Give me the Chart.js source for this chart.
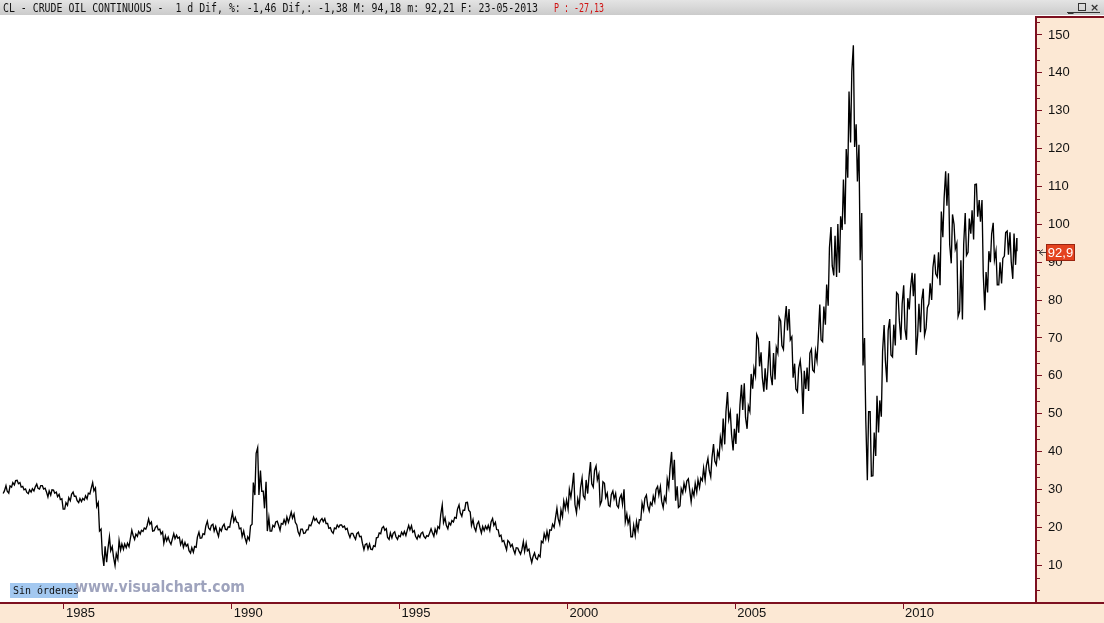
<!DOCTYPE html>
<html>
<head>
<meta charset="utf-8">
<script src="https://cdn.jsdelivr.net/npm/chart.js@4/dist/chart.umd.min.js"></script>
<style>
html,body{margin:0;padding:0;background:#fff;overflow:hidden;}
canvas{display:block;}
</style>
</head>
<body>
<canvas id="c" width="1104" height="623"></canvas>
<script>
// ---------------- DATA ----------------
const startYear = 1983;
const startMonth = 3; // first month of the arrays below (March 1983)

// monthly highs of the continuous contract
const monthHigh = [
  29.6, 31.0, 30.9, 31.8, 32.3, 32.4, 31.8, 30.8, 30.1, 29.9,                 // 1983 Mar-Dec
  30.2, 30.6, 31.4, 31.0, 31.0, 30.3, 29.6, 29.9, 29.8, 29.3, 28.7, 27.5,     // 1984
  26.5, 27.8, 28.7, 29.3, 28.2, 27.6, 27.6, 28.3, 29.0, 30.2, 31.8, 30.4,     // 1985
  26.5, 19.5, 15.0, 14.3, 17.5, 14.9, 13.0, 16.5, 15.6, 15.6, 15.8, 16.9,     // 1986
  19.2, 18.2, 18.9, 19.2, 19.8, 20.4, 22.2, 21.4, 20.0, 20.4, 19.5, 18.8,     // 1987
  17.7, 17.4, 16.8, 18.3, 17.9, 17.4, 16.5, 16.0, 15.5, 14.6, 14.9, 17.4,     // 1988
  18.7, 18.3, 20.3, 21.6, 20.5, 20.8, 20.2, 19.7, 20.2, 20.8, 20.1, 21.9,     // 1989
  23.9, 22.6, 21.2, 19.8, 19.0, 17.5, 20.4, 31.8, 39.5, 41.0, 35.0, 29.5,     // 1990
  32.0, 22.5, 20.5, 21.4, 21.6, 21.0, 22.0, 22.7, 22.5, 24.0, 23.5, 20.6,     // 1991
  19.5, 19.5, 19.3, 20.6, 21.3, 22.7, 22.3, 21.8, 22.3, 22.3, 21.0, 19.9,     // 1992
  19.8, 20.6, 20.6, 20.6, 20.3, 19.7, 18.4, 18.4, 18.3, 18.7, 17.6, 15.4,     // 1993
  15.7, 15.6, 15.1, 17.2, 18.5, 19.8, 20.2, 19.6, 18.5, 18.4, 18.8, 17.8,     // 1994
  18.7, 18.9, 19.1, 20.5, 20.4, 19.1, 17.9, 18.4, 18.7, 17.8, 18.4, 19.6,     // 1995
  19.5, 20.2, 23.3, 25.9, 22.5, 21.2, 21.8, 22.6, 24.8, 25.9, 24.5, 26.5,     // 1996
  26.6, 24.0, 22.0, 20.8, 21.5, 20.2, 20.3, 20.5, 21.4, 22.3, 21.3, 19.3,     // 1997
  17.9, 16.5, 16.5, 16.0, 15.5, 14.6, 14.5, 14.0, 16.2, 15.8, 14.2, 12.2,     // 1998
  13.2, 12.7, 16.3, 18.3, 18.9, 19.3, 20.8, 22.3, 25.0, 24.6, 26.9, 27.2,     // 1999
  30.0, 30.5, 34.4, 27.5, 30.5, 33.0, 32.5, 33.2, 37.2, 35.0, 36.2, 34.0,     // 2000
  32.0, 31.6, 29.0, 28.6, 29.6, 28.9, 27.7, 28.6, 30.0, 23.5, 22.5, 20.5,     // 2001
  21.5, 22.0, 26.4, 27.7, 28.5, 26.5, 28.2, 30.0, 30.8, 30.7, 28.0, 32.7,     // 2002
  35.5, 39.9, 37.8, 30.8, 30.2, 31.6, 32.2, 32.8, 29.8, 31.6, 32.6, 33.0,     // 2003
  35.6, 36.3, 38.2, 38.4, 42.0, 40.0, 43.8, 48.7, 50.5, 55.7, 50.5, 46.0,     // 2004
  50.0, 52.3, 57.6, 58.0, 52.0, 60.5, 62.0, 70.9, 69.8, 66.2, 62.0, 61.8,     // 2005
  69.2, 66.0, 67.5, 75.4, 74.5, 73.9, 78.4, 77.6, 70.3, 63.2, 62.0, 64.0,     // 2006
  61.3, 62.2, 66.0, 67.0, 66.5, 70.0, 78.8, 78.3, 84.1, 93.8, 99.3, 97.0,     // 2007
  100.1, 102.1, 111.8, 119.9, 135.1, 140.4, 147.3, 126.4, 121.0, 103.0, 70.0, 50.5, // 2008
  50.5, 45.0, 54.7, 53.5, 66.4, 73.4, 72.0, 75.0, 73.5, 82.0, 81.5, 79.0,     // 2009
  83.9, 80.5, 83.2, 87.2, 87.0, 79.0, 80.0, 83.0, 78.0, 84.4, 88.6, 92.0,     // 2010
  92.6, 103.4, 106.9, 114.0, 113.5, 102.6, 100.0, 95.0, 90.5, 94.7, 103.0, 101.5, // 2011
  103.7, 110.5, 110.6, 106.4, 106.4, 87.4, 92.9, 97.5, 100.4, 93.0, 90.0, 91.0, // 2012
  97.8, 98.2, 97.9, 97.6, 96.4                                                 // 2013 Jan-May
];

// monthly lows of the continuous contract
const monthLow = [
  28.9, 29.5, 29.0, 30.6, 31.2, 31.5, 30.6, 29.9, 29.2, 28.9,                 // 1983 Mar-Dec
  29.3, 29.6, 30.3, 30.1, 30.1, 29.4, 28.0, 28.5, 29.0, 28.1, 27.3, 24.8,     // 1984
  24.8, 25.8, 27.0, 28.2, 27.0, 26.5, 26.8, 27.2, 27.5, 28.8, 29.6, 25.5,     // 1985
  19.0, 13.0, 9.8, 10.8, 13.8, 12.2, 9.9, 11.6, 14.0, 14.2, 14.6, 14.9,       // 1986
  17.9, 16.8, 17.6, 18.2, 18.9, 19.5, 20.8, 19.0, 19.1, 19.3, 18.2, 15.8,     // 1987
  16.4, 16.3, 15.5, 17.0, 17.1, 15.4, 14.7, 15.0, 13.8, 13.2, 13.4, 14.7,     // 1988
  17.1, 17.2, 18.1, 19.8, 19.3, 19.0, 18.8, 17.6, 19.0, 19.5, 19.3, 20.0,     // 1989
  21.5, 21.4, 19.6, 17.5, 17.3, 15.9, 16.7, 20.8, 28.5, 28.5, 29.5, 25.0,     // 1990
  19.0, 19.0, 19.0, 20.1, 20.6, 19.2, 20.8, 20.9, 21.3, 22.4, 21.3, 18.8,     // 1991
  17.9, 18.4, 18.5, 19.3, 20.4, 21.8, 21.4, 21.0, 21.5, 21.0, 19.7, 18.9,     // 1992
  18.4, 19.6, 20.0, 20.0, 19.4, 18.4, 17.3, 17.6, 16.8, 17.5, 15.8, 14.1,     // 1993
  14.3, 14.2, 14.1, 14.9, 17.3, 18.3, 19.2, 17.3, 16.8, 17.2, 17.5, 16.8,     // 1994
  17.5, 18.0, 17.8, 19.3, 18.7, 17.6, 16.9, 17.3, 17.6, 17.1, 17.6, 18.6,     // 1995
  17.6, 18.4, 19.7, 21.2, 20.5, 19.6, 20.6, 21.4, 22.4, 23.8, 22.9, 24.5,     // 1996
  24.5, 20.5, 20.0, 19.0, 20.0, 18.5, 19.1, 19.5, 19.1, 20.5, 19.4, 17.6,     // 1997
  16.2, 15.3, 14.0, 14.9, 14.2, 13.0, 13.7, 12.9, 13.6, 13.8, 12.3, 10.7,     // 1998
  11.9, 11.5, 12.2, 15.9, 16.9, 16.8, 19.2, 20.0, 22.3, 20.8, 22.8, 24.9,     // 1999
  24.8, 27.9, 26.0, 23.8, 25.6, 28.3, 27.5, 28.9, 31.5, 30.6, 32.5, 25.9,     // 2000
  27.0, 27.9, 25.8, 25.5, 27.5, 25.8, 25.2, 26.1, 21.4, 21.0, 17.5, 17.5,     // 2001
  17.9, 19.3, 21.9, 24.6, 25.7, 24.3, 25.8, 26.7, 28.5, 26.9, 25.2, 26.8,     // 2002
  30.5, 32.5, 27.0, 25.2, 25.6, 29.0, 29.8, 30.0, 26.7, 28.3, 29.3, 30.5,     // 2003
  32.3, 32.5, 35.0, 33.3, 37.5, 36.5, 38.5, 41.5, 41.9, 48.5, 44.5, 40.3,     // 2004
  42.0, 45.0, 51.0, 49.0, 46.0, 50.6, 56.6, 60.0, 62.5, 59.5, 55.8, 56.3,     // 2005
  60.2, 57.5, 59.0, 66.0, 68.0, 67.0, 72.0, 69.5, 59.5, 56.5, 55.8, 60.5,     // 2006
  49.9, 56.5, 56.0, 61.5, 61.0, 64.0, 69.5, 69.0, 73.5, 78.5, 89.0, 86.5,     // 2007
  86.1, 87.2, 98.5, 100.0, 112.3, 121.6, 120.4, 111.3, 90.5, 62.7, 48.2, 32.4, // 2008
  33.5, 33.6, 38.8, 45.0, 49.2, 64.0, 58.3, 65.5, 65.0, 68.0, 74.5, 69.5,     // 2009
  72.4, 69.5, 77.5, 81.0, 65.5, 70.8, 71.5, 70.7, 72.6, 79.0, 80.0, 86.9,     // 2010
  86.1, 83.9, 96.6, 104.9, 94.6, 89.7, 93.5, 75.7, 77.1, 74.9, 91.8, 92.6,    // 2011
  97.5, 96.0, 102.0, 100.7, 86.8, 77.3, 82.0, 90.0, 90.6, 84.0, 84.0, 84.4,   // 2012
  91.6, 92.0, 90.1, 85.6, 89.3                                                 // 2013 Jan-May
];

const lastPrice = 92.9;        // last quote (label "92,9")
const lastDate = 2013.395;     // 23-05-2013
const yearTicks = [1985, 1990, 1995, 2000, 2005, 2010];
const priceTicks = [0, 10, 20, 30, 40, 50, 60, 70, 80, 90, 100, 110, 120, 130, 140, 150];

const headerMain = "CL - CRUDE OIL CONTINUOUS -  1 d Dif, %: -1,46 Dif,: -1,38 M: 94,18 m: 92,21 F: 23-05-2013";
const headerRed = "P : -27,13";
const watermark = "www.visualchart.com";
const ordersText = "Sin órdenes";

// ---------------- BUILD SERIES ----------------
function buildPoints() {
  const pts = [];
  for (let i = 0; i < monthHigh.length; i++) {
    const m = startMonth - 1 + i;
    const t0 = startYear + m / 12;
    const mid = (monthHigh[i] + monthLow[i]) / 2;
    const next = i + 1 < monthHigh.length ? (monthHigh[i + 1] + monthLow[i + 1]) / 2 : lastPrice;
    const up = next >= mid;
    const a = up ? monthLow[i] : monthHigh[i];
    const b = up ? monthHigh[i] : monthLow[i];
    pts.push({ x: t0 + 0.25 / 12, y: a }, { x: t0 + 0.7 / 12, y: b });
  }
  pts.push({ x: lastDate, y: lastPrice });
  return pts;
}

const DARKRED = '#7d1020';
const PEACH = '#fce8d4';
const AXISFAMILY = "'Liberation Sans', Arial, sans-serif";

function fitText(ctx, txt, x, yBase, width, font, color) {
  ctx.save();
  ctx.font = font;
  ctx.fillStyle = color;
  ctx.textBaseline = 'alphabetic';
  ctx.textAlign = 'left';
  const w = ctx.measureText(txt).width;
  ctx.translate(x, yBase);
  ctx.scale(width / w, 1);
  ctx.fillText(txt, 0, 0);
  ctx.restore();
}

const decor = {
  id: 'decor',
  beforeDraw(chart) {
    const ctx = chart.ctx;
    const W = chart.width, H = chart.height;
    const ca = chart.chartArea;
    ctx.save();
    ctx.fillStyle = '#ffffff';
    ctx.fillRect(0, 0, W, H);
    // header bar
    const g = ctx.createLinearGradient(0, 0, 0, 15);
    g.addColorStop(0, '#e4e4e4');
    g.addColorStop(1, '#cbcbcb');
    ctx.fillStyle = g;
    ctx.fillRect(0, 0, W, 15);
    // right axis panel
    ctx.fillStyle = PEACH;
    ctx.fillRect(ca.right, ca.top, W - ca.right, ca.bottom - ca.top);
    // bottom axis panel
    ctx.fillRect(0, ca.bottom, W, H - ca.bottom);
    ctx.restore();
  },
  afterDraw(chart) {
    const ctx = chart.ctx;
    const W = chart.width;
    const ca = chart.chartArea;
    const ys = chart.scales.y;
    ctx.save();
    // panel borders
    ctx.strokeStyle = DARKRED;
    ctx.lineWidth = 2;
    ctx.beginPath();
    ctx.moveTo(ca.right, ca.top); ctx.lineTo(W, ca.top);
    ctx.moveTo(ca.right, ca.bottom); ctx.lineTo(W, ca.bottom);
    ctx.stroke();
    // minor ticks on price axis
    ctx.lineWidth = 1;
    ctx.beginPath();
    for (let k = 1; k * 10 / 3 < ys.max; k++) {
      if (k % 3 === 0) continue;
      const y = Math.round(ys.getPixelForValue(k * 10 / 3)) + 0.5;
      ctx.moveTo(ca.right, y); ctx.lineTo(ca.right + 4, y);
    }
    ctx.stroke();

    // header texts
    fitText(ctx, headerMain, 3, 12, 535, "12px 'DejaVu Sans Mono', monospace", '#111');
    fitText(ctx, headerRed, 554, 12, 50, "12px 'DejaVu Sans Mono', monospace", '#d01010');
    // window buttons
    ctx.fillStyle = '#333';
    ctx.font = "bold 11px 'DejaVu Sans', sans-serif";
    ctx.textBaseline = 'alphabetic';
    ctx.fillText('_', 1068, 11);
    ctx.strokeStyle = '#333';
    ctx.lineWidth = 1;
    ctx.strokeRect(1078.5, 3.5, 7, 7);
    ctx.fillText('\u00d7', 1090, 11);
    ctx.fillRect(1067, 12, 33, 1);

    // "Sin órdenes" box
    ctx.fillStyle = '#a3c8f0';
    ctx.fillRect(10, 583, 68, 15);
    fitText(ctx, ordersText, 13, 594, 66, "11px 'DejaVu Sans Mono', monospace", '#111');
    // watermark
    fitText(ctx, watermark, 75, 592, 170, "bold 15px 'DejaVu Sans', sans-serif", '#9ea3bd');

    // last price label
    const py = ys.getPixelForValue(lastPrice);
    const bx = 1046, bw = 29, bh = 17, by = Math.round(py - bh / 2 + 1);
    ctx.fillStyle = '#e4431f';
    ctx.fillRect(bx, by, bw, bh);
    ctx.strokeStyle = '#9a2410';
    ctx.strokeRect(bx + 0.5, by + 0.5, bw - 1, bh - 1);
    ctx.fillStyle = '#ffffff';
    ctx.font = "13px " + AXISFAMILY;
    ctx.textAlign = 'center';
    ctx.textBaseline = 'middle';
    ctx.fillText(String(lastPrice).replace('.', ','), bx + bw / 2, by + bh / 2 + 1);
    // small arrow
    ctx.strokeStyle = '#444';
    ctx.beginPath();
    const ay = Math.round(py) + 1.5;
    ctx.moveTo(1043, ay - 3); ctx.lineTo(1039, ay); ctx.lineTo(1043, ay + 3);
    ctx.moveTo(1039, ay); ctx.lineTo(1046, ay);
    ctx.stroke();
    ctx.restore();
  }
};

new Chart(document.getElementById('c'), {
  type: 'line',
  data: {
    datasets: [{
      data: buildPoints(),
      borderColor: '#000000',
      borderWidth: 1.35,
      pointRadius: 0,
      tension: 0,
      fill: false
    }]
  },
  options: {
    responsive: false,
    animation: false,
    devicePixelRatio: 1,
    parsing: false,
    layout: { padding: { top: 17, left: 0, right: 0, bottom: 0 } },
    plugins: { legend: { display: false }, tooltip: { enabled: false } },
    scales: {
      x: {
        type: 'linear',
        position: 'bottom',
        min: 1983.093,
        max: 2013.963,
        afterBuildTicks(scale) { scale.ticks = yearTicks.map(v => ({ value: v })); },
        afterFit(scale) { scale.height = 20; },
        border: { display: true, color: DARKRED, width: 2 },
        grid: { drawOnChartArea: false, drawTicks: true, tickLength: 6, color: DARKRED, tickWidth: 1 },
        ticks: {
          align: 'start',
          labelOffset: 2,
          padding: -3,
          maxRotation: 0,
          autoSkip: false,
          color: '#111',
          font: { family: AXISFAMILY, size: 13 },
          callback: v => String(v)
        }
      },
      y: {
        type: 'linear',
        position: 'right',
        min: 0,
        max: 154.75,
        afterBuildTicks(scale) { scale.ticks = priceTicks.map(v => ({ value: v })); },
        afterFit(scale) { scale.width = 68; },
        border: { display: true, color: DARKRED, width: 2 },
        grid: { drawOnChartArea: false, drawTicks: true, tickLength: 6, color: DARKRED, tickWidth: 1 },
        ticks: {
          padding: 6,
          color: '#111',
          font: { family: AXISFAMILY, size: 13 },
          callback: v => (v === 0 ? '' : String(v))
        }
      }
    }
  },
  plugins: [decor]
});
</script>
</body>
</html>
